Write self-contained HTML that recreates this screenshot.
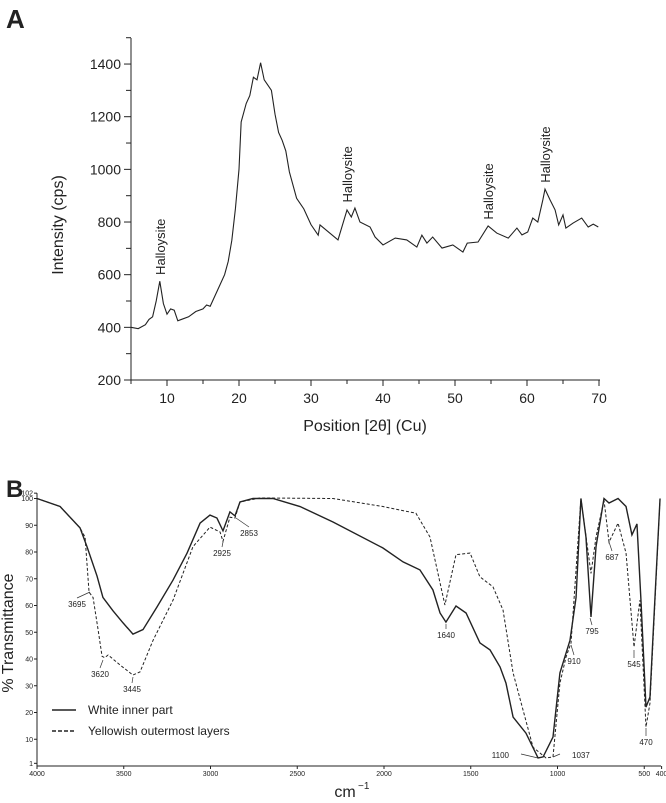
<!DOCTYPE html>
<html><head><meta charset="utf-8"><style>
body{margin:0;background:#fff;font-family:"Liberation Sans",sans-serif}
svg{display:block}
text{font-family:"Liberation Sans",sans-serif;fill:#222}
</style></head><body>
<svg id="s" width="666" height="803">
<text x="6" y="28" font-size="26" font-weight="bold">A</text>
<text x="6" y="497" font-size="24" font-weight="bold">B</text>
<g id="ga"></g>
<g id="gb"></g>
</svg>
<script>
// ---- Chart A data ----
const xrdX=[5,6,7,7.5,8,8.5,9,9.5,10,10.5,11,11.5,12,13,14,15,15.5,16,16.5,17,18,18.5,19,19.5,20,20.3,21,21.5,22,22.5,23,23.5,24,24.5,25,25.5,26,26.5,27,28,28.5,29,30,31,31.25,33.75,35,35.6,36.1,36.8,38.2,38.9,40,41.7,43.3,44.7,45.4,46.1,46.9,48.2,49.7,51.1,51.7,53.2,54.6,55.8,57.4,58.6,59.3,60.1,60.8,61.5,62.2,62.5,63.2,63.9,64.4,65,65.4,66.4,67.6,68.5,69.2,69.9];
const xrdY=[400,395,410,430,440,500,575,490,450,470,465,425,430,440,460,470,485,480,510,540,600,650,730,850,1000,1180,1250,1280,1350,1340,1405,1340,1320,1300,1210,1140,1110,1070,990,890,870,850,790,750,789,732,846,819,853,800,781,743,713,739,732,705,750,720,743,701,713,686,720,724,785,758,739,777,751,762,815,800,884,925,884,846,789,827,777,796,815,781,792,781];
const xrdTicksX=[10,20,30,40,50,60,70];
const xrdTicksY=[200,400,600,800,1000,1200,1400];
const peakX=[9,35,54.6,62.5];
const peakY=[580,855,790,930];
// ---- Chart B data ----
const solidWn=[4000,3867,3752,3712,3654,3620,3562,3504,3447,3389,3308,3216,3135,3060,3003,2963,2928,2888,2859,2830,2755,2640,2484,2294,2006,1890,1793,1718,1677,1643,1585,1527,1447,1389,1331,1297,1256,1182,1112,1083,1026,986,928,893,865,836,807,778,732,703,651,605,571,542,519,490,467,450,409];
const solidT=[100,97,89,82,71,63,58,53.5,49.3,51,59.5,69.5,79.6,90.8,93.8,92.7,87.9,95,93.5,98.7,100,100,97,91.2,81.5,76.3,73.3,65.8,57.2,53.8,59.8,57.2,46,43.4,37,31,18.3,12.3,3,3.4,10.8,34.8,47,63,100,85.6,55.7,82,100,98.3,100,97,86.4,90.5,62,22,25.8,48,100];
const dashWn=[4000,3867,3752,3723,3700,3677,3648,3625,3610,3590,3522,3447,3406,3331,3216,3101,3003,2945,2928,2888,2859,2830,2715,2294,2006,1908,1816,1735,1649,1585,1504,1447,1372,1314,1256,1141,1066,1026,986,951,922,865,807,778,732,703,651,605,559,525,490,467,409];
const dashT=[100,97,89,85.6,65,63,51,41,40.5,41.5,37.8,34,35.2,47,62,82,89.3,87.5,84,93,92.7,98.7,100.2,100,97,95.7,94.5,85.6,60.2,79,79.6,70.7,67,58.3,34.8,7,3,3.4,31,40.7,46,100,72,85.6,99.4,83.7,90.8,79.6,44.5,62,14.6,23.5,100];
const ftirTicksX=[4000,3500,3000,2500,2000,1500,1000,500,400];
const ftirTicksY=[1,10,20,30,40,50,60,70,80,90,100,102];
const bandLabels=["3695","3620","3445","2925","2853","1640","1100","1037","910","795","687","545","470"];
const NS="http://www.w3.org/2000/svg";
function mk(p,t,a,txt){const e=document.createElementNS(NS,t);for(const k in a)e.setAttribute(k,a[k]);if(txt!==undefined)e.textContent=txt;p.appendChild(e);return e;}
// Chart A
const ga=document.getElementById('ga');
const ax=v=>131+(v-5)*7.2, ay=v=>380-(v-200)*0.2633;
let e=mk(ga,'line',{x1:131,y1:38,x2:131,y2:380,stroke:'#222','stroke-width':1});

e=mk(ga,'line',{x1:131,y1:380,x2:600,y2:380,stroke:'#222','stroke-width':1});

for(let v=5;v<=70;v+=5){mk(ga,'line',{x1:ax(v),y1:380,x2:ax(v),y2:v%10?384:386,stroke:'#222'});}
xrdTicksX.forEach(v=>{e=mk(ga,'text',{x:ax(v),y:403,'font-size':14,'text-anchor':'middle'},v);});
for(let v=200;v<=1500;v+=100){mk(ga,'line',{x1:v%200?126:124,y1:ay(v),x2:131,y2:ay(v),stroke:'#222'});}
xrdTicksY.forEach(v=>{e=mk(ga,'text',{x:121,y:ay(v)+5,'font-size':14,'text-anchor':'end'},v);});
e=mk(ga,'text',{x:365,y:431,'font-size':16,'text-anchor':'middle'},'Position [2θ] (Cu)');
e=mk(ga,'text',{x:0,y:0,'font-size':16,'text-anchor':'middle',transform:'translate(63,225) rotate(-90)'},'Intensity (cps)');
e=mk(ga,'polyline',{points:xrdX.map((x,i)=>ax(x)+','+ay(xrdY[i])).join(' '),fill:'none',stroke:'#222','stroke-width':1.1});

peakX.forEach((x,i)=>{e=mk(ga,'text',{x:0,y:0,'font-size':13,transform:`translate(${ax(x)+5},${ay(peakY[i])-5}) rotate(-90)`},'Halloysite');});
// Chart B
const gb=document.getElementById('gb');
const bx=v=>37+(4000-v)*0.1735, by=v=>766-v*2.675;
e=mk(gb,'line',{x1:37,y1:by(102),x2:37,y2:766,stroke:'#222'});
e=mk(gb,'line',{x1:37,y1:766,x2:661,y2:766,stroke:'#222'});
ftirTicksX.forEach(v=>{mk(gb,'line',{x1:bx(v),y1:766,x2:bx(v),y2:769,stroke:'#222'});e=mk(gb,'text',{x:bx(v),y:776,'font-size':7,'text-anchor':'middle'},v);});
ftirTicksY.forEach(v=>{mk(gb,'line',{x1:34,y1:by(v),x2:37,y2:by(v),stroke:'#222'});e=mk(gb,'text',{x:33,y:by(v)+2.5,'font-size':7,'text-anchor':'end'},v);});
e=mk(gb,'text',{x:345,y:797,'font-size':16,'text-anchor':'middle'},'cm');
mk(gb,'text',{x:358,y:789,'font-size':10},'−1');
e=mk(gb,'text',{x:0,y:0,'font-size':16,'text-anchor':'middle',transform:'translate(13,633) rotate(-90)'},'% Transmittance');
e=mk(gb,'polyline',{points:dashWn.map((x,i)=>bx(x)+','+by(dashT[i])).join(' '),fill:'none',stroke:'#222','stroke-width':1,'stroke-dasharray':'3,2'});

e=mk(gb,'polyline',{points:solidWn.map((x,i)=>bx(x)+','+by(solidT[i])).join(' '),fill:'none',stroke:'#222','stroke-width':1.4});

// band annotations
const ann=[[77,607,90,592],[100,677,103,660],[132,692,133,677],[222,556,223,542],[249,536,236,518],[446,638,446,624],[509,758,538,758],[572,758,553,757],[574,664,571,645],[592,634,590,618],[612,560,609,542],[634,667,634,650],[646,745,646,728]];
ann.forEach((a,i)=>{mk(gb,'line',{x1:a[0]+(i==6?12:i==7?-12:0),y1:a[1]-(i==6||i==7?4:9),x2:a[2],y2:a[3],stroke:'#333','stroke-width':0.7});
e=mk(gb,'text',{x:a[0],y:a[1],'font-size':8,'text-anchor':i==6?'end':i==7?'start':'middle'},bandLabels[i]);});
// legend
e=mk(gb,'line',{x1:52,y1:710,x2:76,y2:710,stroke:'#222','stroke-width':1.6});
e=mk(gb,'text',{x:88,y:714,'font-size':12},'White inner part');
e=mk(gb,'line',{x1:52,y1:731,x2:76,y2:731,stroke:'#222','stroke-width':1.4,'stroke-dasharray':'4,2'});
e=mk(gb,'text',{x:88,y:735,'font-size':12},'Yellowish outermost layers');
</script>
</body></html>
